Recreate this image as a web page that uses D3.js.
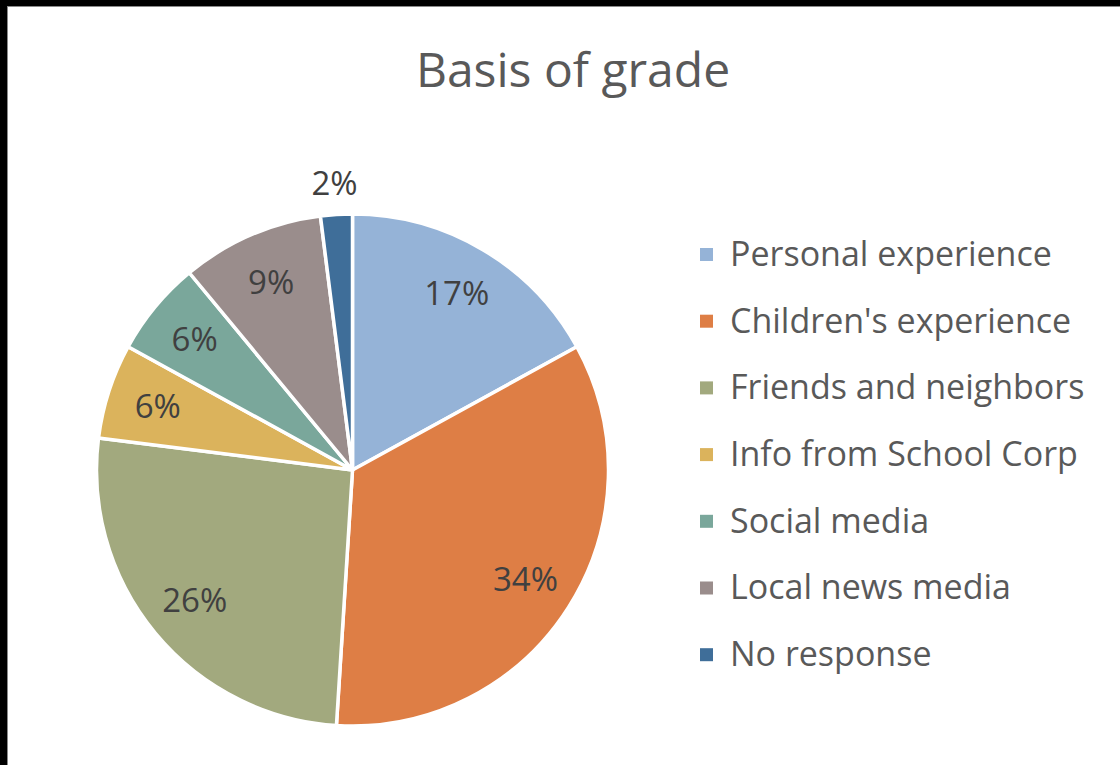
<!DOCTYPE html>
<html>
<head>
<meta charset="utf-8">
<script src="https://cdn.jsdelivr.net/npm/d3@7"></script>
<style>
  html, body { margin: 0; padding: 0; background: #000; }
  svg { display: block; }
</style>
</head>
<body>
<svg id="chart" width="1120" height="765"></svg>
<script>
// Survey responses: what the grade was based on
const categories = [
  "Personal experience",
  "Children's experience",
  "Friends and neighbors",
  "Info from School Corp",
  "Social media",
  "Local news media",
  "No response"
];
const shares = [17, 34, 26, 6, 6, 9, 2];
const sliceColors = ["#95B3D7", "#DE7E45", "#A2A97E", "#DBB35C", "#7AA79B", "#9A8D8C", "#3F6E99"];
const titleText = "Basis of grade";

const W = 1120, H = 765;
const svg = d3.select("#chart");

// Page frame: dark edge with a thin grey rule around the white sheet
svg.append("rect").attr("x", 0).attr("y", 0).attr("width", W).attr("height", H).attr("fill", "#000");
svg.append("rect").attr("x", 7).attr("y", 6).attr("width", W - 7).attr("height", H - 6).attr("fill", "#8a8a8a");
svg.append("rect").attr("x", 8).attr("y", 7).attr("width", W - 8).attr("height", H - 7).attr("fill", "#fff");

const font = "'Open Sans', Lato, sans-serif";

// Title
svg.append("text")
  .attr("x", 573).attr("y", 87)
  .attr("text-anchor", "middle")
  .attr("font-family", font)
  .attr("font-size", 48)
  .attr("fill", "#595959")
  .text(titleText);

// Pie
const cx = 352.5, cy = 470, R = 256;
const data = categories.map((c, i) => ({ name: c, value: shares[i] }));
const color = d3.scaleOrdinal().domain(categories).range(sliceColors);

const pie = d3.pie().value(d => d.value).sort(null);
const arcs = pie(data);
const arc = d3.arc().innerRadius(0).outerRadius(R);
const labelArc = d3.arc().innerRadius(R * 0.8).outerRadius(R * 0.8);
const outerLabelArc = d3.arc().innerRadius(R + 31).outerRadius(R + 31);

const g = svg.append("g").attr("transform", `translate(${cx},${cy})`);

g.selectAll("path.slice")
  .data(arcs)
  .join("path")
  .attr("class", "slice")
  .attr("d", arc)
  .attr("fill", d => color(d.data.name))
  .attr("stroke", "#fff")
  .attr("stroke-width", 3.5)
  .attr("stroke-linejoin", "round");

// Percentage labels: inside for wide slices, just outside for narrow ones
g.selectAll("text.pct")
  .data(arcs)
  .join("text")
  .attr("class", "pct")
  .attr("transform", d => {
    const small = (d.endAngle - d.startAngle) < 0.2;
    const p = (small ? outerLabelArc : labelArc).centroid(d);
    return `translate(${p[0]},${p[1]})`;
  })
  .attr("text-anchor", "middle")
  .attr("dy", "0.35em")
  .attr("font-family", font)
  .attr("font-size", 33)
  .attr("fill", "#404040")
  .text(d => d.data.value + "%");

// Legend
const legendX = 700, legendY0 = 254, legendStep = 66.7;
const legend = svg.append("g");
const items = legend.selectAll("g.item")
  .data(categories)
  .join("g")
  .attr("class", "item")
  .attr("transform", (d, i) => `translate(${legendX},${legendY0 + i * legendStep})`);

items.append("rect")
  .attr("x", 0).attr("y", -6)
  .attr("width", 13).attr("height", 13)
  .attr("fill", d => color(d));

items.append("text")
  .attr("x", 30).attr("y", 0)
  .attr("dy", "0.35em")
  .attr("font-family", font)
  .attr("font-size", 34)
  .attr("fill", "#595959")
  .text(d => d);
</script>
</body>
</html>
